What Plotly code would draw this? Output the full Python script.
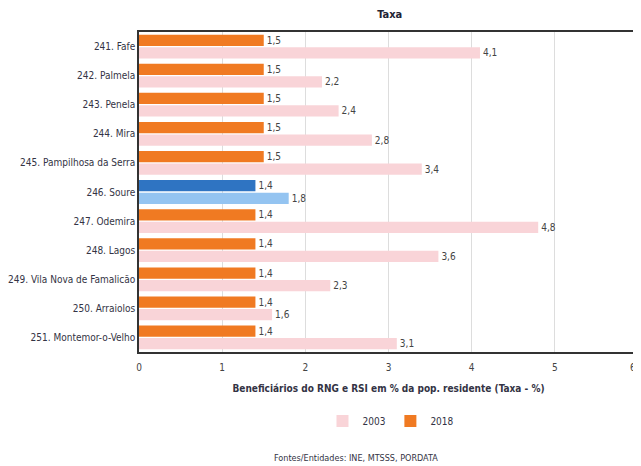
import plotly.graph_objects as go

categories = ["241. Fafe", "242. Palmela", "243. Penela", "244. Mira",
              "245. Pampilhosa da Serra", "246. Soure", "247. Odemira",
              "248. Lagos", "249. Vila Nova de Famalicão", "250. Arraiolos",
              "251. Montemor-o-Velho"]
values_2018 = [1.5, 1.5, 1.5, 1.5, 1.5, 1.4, 1.4, 1.4, 1.4, 1.4, 1.4]
values_2003 = [4.1, 2.2, 2.4, 2.8, 3.4, 1.8, 4.8, 3.6, 2.3, 1.6, 3.1]
highlight = "246. Soure"
x_ticks = [0, 1, 2, 3, 4, 5]
x_max = 6

c2018 = "#f07a22"
c2003 = "#f9d4d8"
c2018_h = "#2f74c2"
c2003_h = "#94c4f1"

def fmt(v):
    return f"{v:.1f}".replace(".", ",")

col18 = [c2018_h if c == highlight else c2018 for c in categories]
col03 = [c2003_h if c == highlight else c2003 for c in categories]

fig = go.Figure()
fig.add_trace(go.Bar(
    y=categories, x=values_2018, orientation="h", name="2018",
    marker=dict(color=col18, line=dict(width=0)),
    text=[fmt(v) for v in values_2018], textposition="outside",
    textfont=dict(size=10, color="#444444"), cliponaxis=False))
fig.add_trace(go.Bar(
    y=categories, x=values_2003, orientation="h", name="2003",
    marker=dict(color=col03, line=dict(width=0)),
    text=[fmt(v) for v in values_2003], textposition="outside",
    textfont=dict(size=10, color="#444444"), cliponaxis=False))

fig.update_layout(
    width=633, height=458,
    margin=dict(l=131, r=3, t=24, b=114, autoexpand=False),
    paper_bgcolor="white", plot_bgcolor="white",
    barmode="group", bargap=0.14, bargroupgap=0.1,
    font=dict(family="DejaVu Sans Condensed, DejaVu Sans, sans-serif", size=10, color="#333344"),
    title=dict(text="<b>Taxa</b>", x=0.603, xanchor="center", y=0.986, yanchor="middle",
               font=dict(size=11, color="#222233")),
    showlegend=True,
    legend=dict(orientation="h", x=0.505, xanchor="center", y=-0.216, yanchor="middle",
                traceorder="reversed", font=dict(size=10, color="#333344"),
                itemwidth=30, tracegroupgap=0),
    xaxis=dict(range=[0, x_max], tickvals=x_ticks, ticktext=[str(t) for t in x_ticks],
               showgrid=True, gridcolor="#dddddd", gridwidth=1,
               showline=True, linecolor="#333333", linewidth=1.5, mirror=True,
               ticks="", tickfont=dict(size=10, color="#444444"), automargin=False,
               ticklabelstandoff=5,
               title=dict(text="<b>Beneficiários do RNG e RSI em % da pop. residente (Taxa - %)</b>",
                          font=dict(size=10, color="#333344"), standoff=13),
               zeroline=False),
    yaxis=dict(autorange="reversed", showline=True, linecolor="#333333", linewidth=1.5,
               mirror=True, ticks="", tickfont=dict(size=10, color="#333344"), showgrid=False,
               automargin=False),
    annotations=[
        dict(text="Fontes/Entidades: INE, MTSSS, PORDATA", xref="paper", yref="paper",
             x=0.435, y=-0.331, xanchor="center", yanchor="middle", showarrow=False,
             font=dict(size=9, color="#333344")),
        dict(text=str(x_max), xref="x", yref="paper", x=x_max, y=-0.047,
             xanchor="right", yanchor="middle", showarrow=False,
             font=dict(size=10, color="#444444")),
    ],
)

fig.write_html("out.html")
